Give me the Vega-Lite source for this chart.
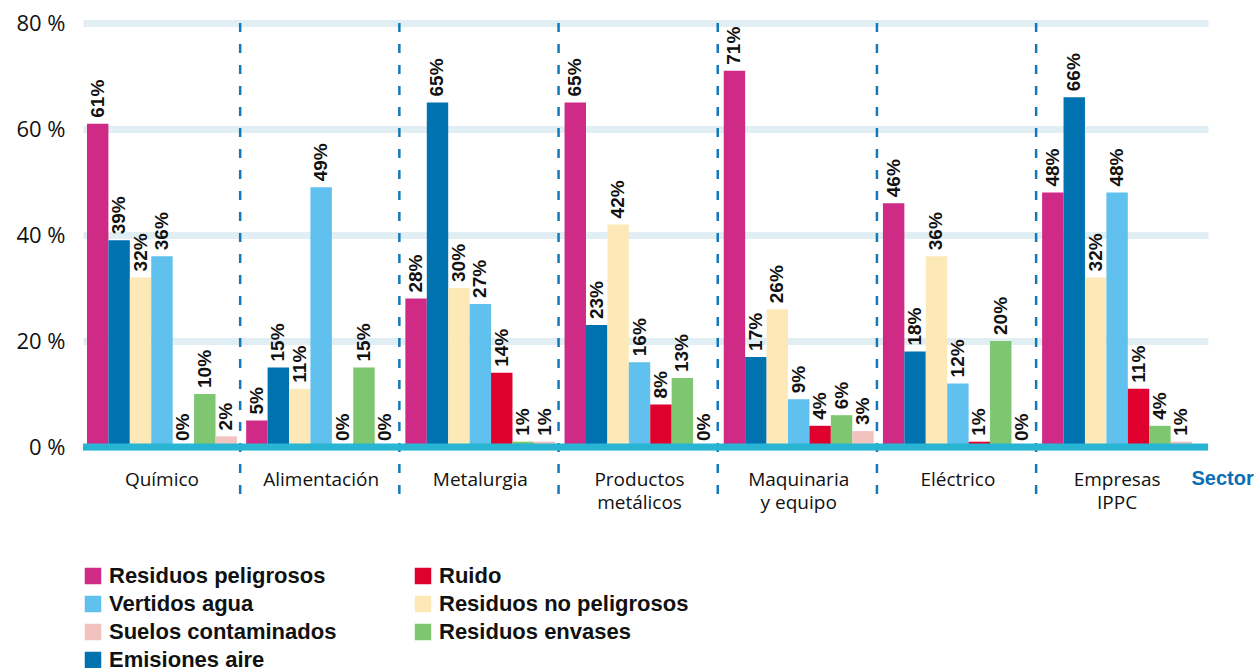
{
  "$schema": "https://vega.github.io/schema/vega-lite/v6.json",
  "autosize": "none",
  "width": 1125,
  "height": 424,
  "padding": {"left": 83, "top": 23, "right": 52, "bottom": 221},
  "background": "#ffffff",
  "config": {"view": {"stroke": null}},
  "datasets": {
    "valores": [
      {"sector": "Químico", "tipo": "Residuos peligrosos", "valor": 61},
      {"sector": "Químico", "tipo": "Emisiones aire", "valor": 39},
      {"sector": "Químico", "tipo": "Residuos no peligrosos", "valor": 32},
      {"sector": "Químico", "tipo": "Vertidos agua", "valor": 36},
      {"sector": "Químico", "tipo": "Ruido", "valor": 0},
      {"sector": "Químico", "tipo": "Residuos envases", "valor": 10},
      {"sector": "Químico", "tipo": "Suelos contaminados", "valor": 2},
      {"sector": "Alimentación", "tipo": "Residuos peligrosos", "valor": 5},
      {"sector": "Alimentación", "tipo": "Emisiones aire", "valor": 15},
      {"sector": "Alimentación", "tipo": "Residuos no peligrosos", "valor": 11},
      {"sector": "Alimentación", "tipo": "Vertidos agua", "valor": 49},
      {"sector": "Alimentación", "tipo": "Ruido", "valor": 0},
      {"sector": "Alimentación", "tipo": "Residuos envases", "valor": 15},
      {"sector": "Alimentación", "tipo": "Suelos contaminados", "valor": 0},
      {"sector": "Metalurgia", "tipo": "Residuos peligrosos", "valor": 28},
      {"sector": "Metalurgia", "tipo": "Emisiones aire", "valor": 65},
      {"sector": "Metalurgia", "tipo": "Residuos no peligrosos", "valor": 30},
      {"sector": "Metalurgia", "tipo": "Vertidos agua", "valor": 27},
      {"sector": "Metalurgia", "tipo": "Ruido", "valor": 14},
      {"sector": "Metalurgia", "tipo": "Residuos envases", "valor": 1},
      {"sector": "Metalurgia", "tipo": "Suelos contaminados", "valor": 1},
      {"sector": "Productos metálicos", "tipo": "Residuos peligrosos", "valor": 65},
      {"sector": "Productos metálicos", "tipo": "Emisiones aire", "valor": 23},
      {"sector": "Productos metálicos", "tipo": "Residuos no peligrosos", "valor": 42},
      {"sector": "Productos metálicos", "tipo": "Vertidos agua", "valor": 16},
      {"sector": "Productos metálicos", "tipo": "Ruido", "valor": 8},
      {"sector": "Productos metálicos", "tipo": "Residuos envases", "valor": 13},
      {"sector": "Productos metálicos", "tipo": "Suelos contaminados", "valor": 0},
      {"sector": "Maquinaria y equipo", "tipo": "Residuos peligrosos", "valor": 71},
      {"sector": "Maquinaria y equipo", "tipo": "Emisiones aire", "valor": 17},
      {"sector": "Maquinaria y equipo", "tipo": "Residuos no peligrosos", "valor": 26},
      {"sector": "Maquinaria y equipo", "tipo": "Vertidos agua", "valor": 9},
      {"sector": "Maquinaria y equipo", "tipo": "Ruido", "valor": 4},
      {"sector": "Maquinaria y equipo", "tipo": "Residuos envases", "valor": 6},
      {"sector": "Maquinaria y equipo", "tipo": "Suelos contaminados", "valor": 3},
      {"sector": "Eléctrico", "tipo": "Residuos peligrosos", "valor": 46},
      {"sector": "Eléctrico", "tipo": "Emisiones aire", "valor": 18},
      {"sector": "Eléctrico", "tipo": "Residuos no peligrosos", "valor": 36},
      {"sector": "Eléctrico", "tipo": "Vertidos agua", "valor": 12},
      {"sector": "Eléctrico", "tipo": "Ruido", "valor": 1},
      {"sector": "Eléctrico", "tipo": "Residuos envases", "valor": 20},
      {"sector": "Eléctrico", "tipo": "Suelos contaminados", "valor": 0},
      {"sector": "Empresas IPPC", "tipo": "Residuos peligrosos", "valor": 48},
      {"sector": "Empresas IPPC", "tipo": "Emisiones aire", "valor": 66},
      {"sector": "Empresas IPPC", "tipo": "Residuos no peligrosos", "valor": 32},
      {"sector": "Empresas IPPC", "tipo": "Vertidos agua", "valor": 48},
      {"sector": "Empresas IPPC", "tipo": "Ruido", "valor": 11},
      {"sector": "Empresas IPPC", "tipo": "Residuos envases", "valor": 4},
      {"sector": "Empresas IPPC", "tipo": "Suelos contaminados", "valor": 1}
    ],
    "separadores": [
      {"sector": "Alimentación"},
      {"sector": "Metalurgia"},
      {"sector": "Productos metálicos"},
      {"sector": "Maquinaria y equipo"},
      {"sector": "Eléctrico"},
      {"sector": "Empresas IPPC"}
    ]
  },
  "layer": [
    {
      "data": {"name": "separadores"},
      "mark": {"type": "rule", "color": "#1379bb", "strokeWidth": 2.5, "strokeDash": [9, 12], "xOffset": -6},
      "encoding": {
        "x": {"field": "sector", "type": "nominal", "bandPosition": 0},
        "y": {"datum": 80},
        "y2": {"datum": -9.7}
      }
    },
    {
      "data": {"name": "valores"},
      "mark": {"type": "bar"},
      "encoding": {
        "x": {
          "field": "sector", "type": "nominal",
          "scale": {
            "domain": ["Químico", "Alimentación", "Metalurgia", "Productos metálicos", "Maquinaria y equipo", "Eléctrico", "Empresas IPPC"],
            "paddingInner": 0.058, "paddingOuter": 0.0625, "align": 0.2
          },
          "axis": {
            "title": "Sector",
            "titleFont": "Liberation Sans", "titleFontSize": 20, "titleFontWeight": "bold", "titleColor": "#0a6fb5",
            "titleAnchor": "start", "titleAlign": "left", "titleBaseline": "middle", "titleX": 1108, "titleY": 31, "titleAngle": 0,
            "labelAngle": 0, "labelAlign": "center", "bandPosition": 0.5, "labelFont": "Open Sans", "labelFontSize": 19, "labelColor": "#111111",
            "labelPadding": 32, "labelLineHeight": 23, "ticks": false, "domain": false, "grid": false,
            "labelExpr": "datum.label == 'Productos metálicos' ? ['Productos','metálicos'] : datum.label == 'Maquinaria y equipo' ? ['Maquinaria','y equipo'] : datum.label == 'Empresas IPPC' ? ['Empresas','IPPC'] : datum.label"
          }
        },
        "xOffset": {
          "field": "tipo", "type": "nominal",
          "scale": {"domain": ["Residuos peligrosos", "Emisiones aire", "Residuos no peligrosos", "Vertidos agua", "Ruido", "Residuos envases", "Suelos contaminados"], "paddingInner": 0, "paddingOuter": 0}
        },
        "y": {
          "field": "valor", "type": "quantitative",
          "scale": {"domain": [0, 80], "nice": false},
          "axis": {
            "title": null, "values": [0, 20, 40, 60, 80], "labelExpr": "datum.value + ' %'",
            "labelFont": "Open Sans", "labelFontSize": 22, "labelColor": "#111111", "labelPadding": 18,
            "ticks": false, "domain": false, "grid": true, "gridColor": "#e1eff5", "gridWidth": 7
          }
        },
        "color": {
          "field": "tipo", "type": "nominal",
          "scale": {
            "domain": ["Residuos peligrosos", "Vertidos agua", "Suelos contaminados", "Emisiones aire", "Ruido", "Residuos no peligrosos", "Residuos envases"],
            "range": ["#cf2a85", "#60c1ef", "#f2c2bf", "#0072b0", "#e0002d", "#fde9b7", "#7ec66f"]
          },
          "legend": {
            "orient": "none", "legendX": -1, "legendY": 542, "columns": 2, "title": null,
            "symbolType": "square", "symbolSize": 272, "symbolStrokeWidth": 0, "symbolOpacity": 1,
            "labelFont": "Liberation Sans", "labelFontSize": 22, "labelFontWeight": "bold", "labelColor": "#111111",
            "labelOffset": 5, "rowPadding": 6, "columnPadding": 75, "padding": 0, "labelLimit": 400
          }
        }
      }
    },
    {
      "data": {"name": "valores"},
      "transform": [{"calculate": "datum.valor + '%'", "as": "etiqueta"}],
      "mark": {"type": "text", "angle": 270, "align": "left", "baseline": "middle", "dx": 6, "font": "Liberation Sans", "fontSize": 19, "fontWeight": "bold", "color": "#111111"},
      "encoding": {
        "x": {"field": "sector", "type": "nominal"},
        "xOffset": {"field": "tipo", "type": "nominal"},
        "y": {"field": "valor", "type": "quantitative"},
        "text": {"field": "etiqueta", "type": "nominal"}
      }
    },
    {
      "data": {"values": [{"cero": 0}]},
      "mark": {"type": "rule", "color": "#27b5d3", "strokeWidth": 7},
      "encoding": {"y": {"field": "cero", "type": "quantitative"}}
    }
  ]
}
